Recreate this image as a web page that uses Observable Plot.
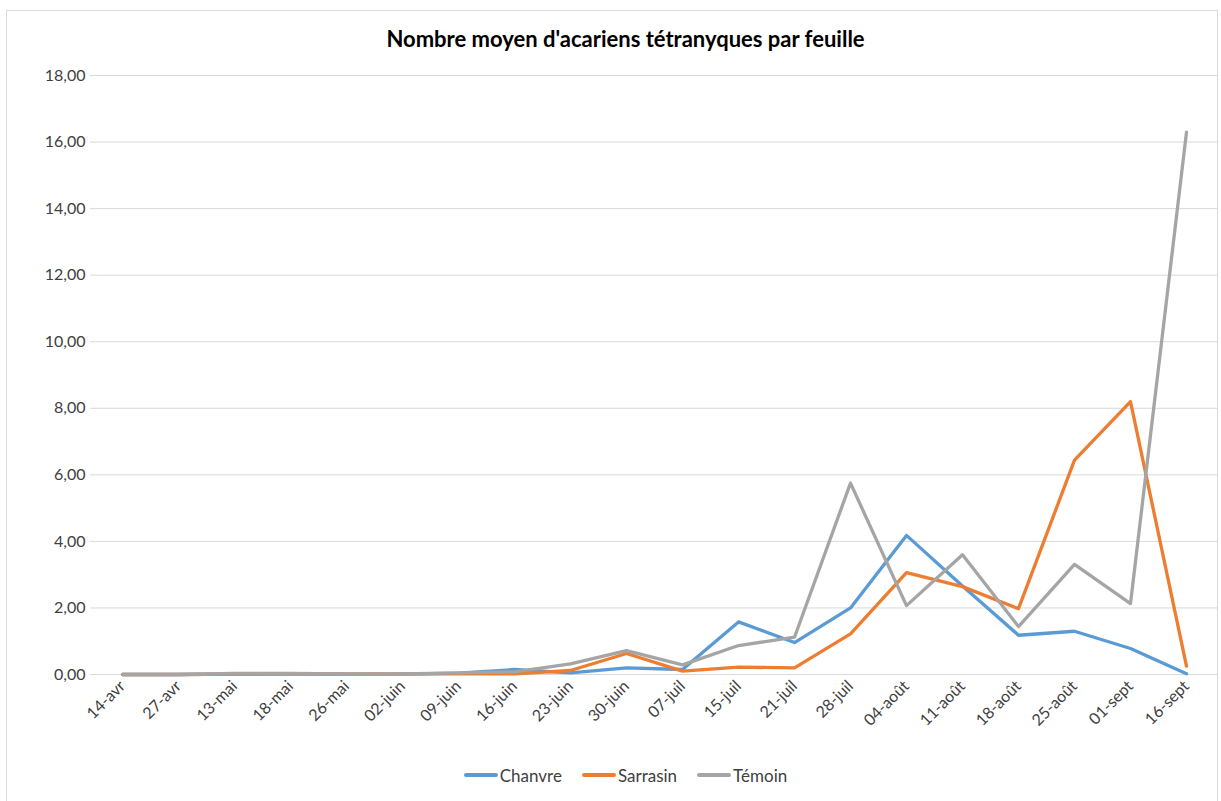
<!DOCTYPE html>
<html>
<head>
<meta charset="utf-8">
<script src="https://cdn.jsdelivr.net/npm/d3@7"></script>
<script src="https://cdn.jsdelivr.net/npm/@observablehq/plot@0.6"></script>
<style>
  body { margin: 0; background: #fff; font-family: Lato, "Open Sans", sans-serif; }
  #frame { position: absolute; left: 6px; top: 10px; width: 1212px; height: 800px; border: 1px solid #d9d9d9; box-sizing: border-box; pointer-events: none; }
  #title { height: 62px; box-sizing: border-box; padding-top: 26px; padding-left: 30px; text-align: center; font-weight: bold; font-size: 22px; line-height: 26px; color: #000; }
  #legend { margin-top: 21px; height: 20px; display: flex; justify-content: center; padding-left: 30px; gap: 20px; font-size: 17px; color: #404040; align-items: center; }
  .item { display: flex; align-items: center; }
  .sw { width: 34px; height: 3.5px; margin-right: 2px; border-radius: 2px; }
</style>
</head>
<body>
<div id="frame"></div>
<div id="title">Nombre moyen d'acariens tétranyques par feuille</div>
<div id="chart"></div>
<div id="legend"></div>
<script>
const dates = ["14-avr","27-avr","13-mai","18-mai","26-mai","02-juin","09-juin","16-juin","23-juin","30-juin","07-juil","15-juil","21-juil","28-juil","04-août","11-août","18-août","25-août","01-sept","16-sept"];
const series = ["Chanvre","Sarrasin","Témoin"];
const colors = ["#5B9BD5","#ED7D31","#A5A5A5"];
const chanvre  = [0, 0, 0.01, 0.02, 0.01, 0.01, 0.04, 0.15, 0.05, 0.20, 0.15, 1.58, 0.96, 2.00, 4.18, 2.66, 1.18, 1.30, 0.78, 0.02];
const sarrasin = [0, 0, 0.01, 0.01, 0.01, 0.02, 0.02, 0.02, 0.12, 0.63, 0.10, 0.22, 0.20, 1.22, 3.06, 2.64, 1.98, 6.44, 8.20, 0.25];
const temoin   = [0, 0, 0.03, 0.03, 0.02, 0.02, 0.05, 0.08, 0.32, 0.72, 0.29, 0.87, 1.12, 5.75, 2.07, 3.60, 1.44, 3.31, 2.13, 16.30];
const yTicks = [0, 2, 4, 6, 8, 10, 12, 14, 16, 18];

const valuesBySeries = [chanvre, sarrasin, temoin];
const data = [];
series.forEach((s, i) => dates.forEach((d, j) => data.push({serie: s, date: d, value: valuesBySeries[i][j]})));

const fmt = d => d.toFixed(2).replace(".", ",");

const chart = Plot.plot({
  width: 1221,
  height: 682,
  marginLeft: 90,
  marginRight: 4,
  marginTop: 13,
  marginBottom: 70,
  style: {fontFamily: "Lato, 'Open Sans', sans-serif", fontSize: "16px", color: "#404040", background: "transparent"},
  x: {type: "point", domain: dates, padding: 0.5, label: null},
  y: {domain: [0, 18], label: null},
  color: {domain: series, range: colors},
  marks: [
    Plot.gridY(yTicks, {stroke: "#d9d9d9", strokeOpacity: 1, strokeWidth: 1}),
    Plot.axisY(yTicks, {tickSize: 0, tickPadding: 5, tickFormat: fmt, fill: "#404040", fontSize: 16, label: null}),
    Plot.axisX({tickSize: 0, tickPadding: 9, tickRotate: -45, fill: "#404040", fontSize: 16, label: null}),
    Plot.line(data, {x: "date", y: "value", z: "serie", stroke: "serie", strokeWidth: 3.3, strokeLinejoin: "round", strokeLinecap: "round"})
  ]
});
document.getElementById("chart").appendChild(chart);

const legend = document.getElementById("legend");
series.forEach((s, i) => {
  const it = document.createElement("div");
  it.className = "item";
  const sw = document.createElement("div");
  sw.className = "sw";
  sw.style.background = colors[i];
  const t = document.createElement("span");
  t.textContent = s;
  it.appendChild(sw);
  it.appendChild(t);
  legend.appendChild(it);
});
</script>
</body>
</html>
